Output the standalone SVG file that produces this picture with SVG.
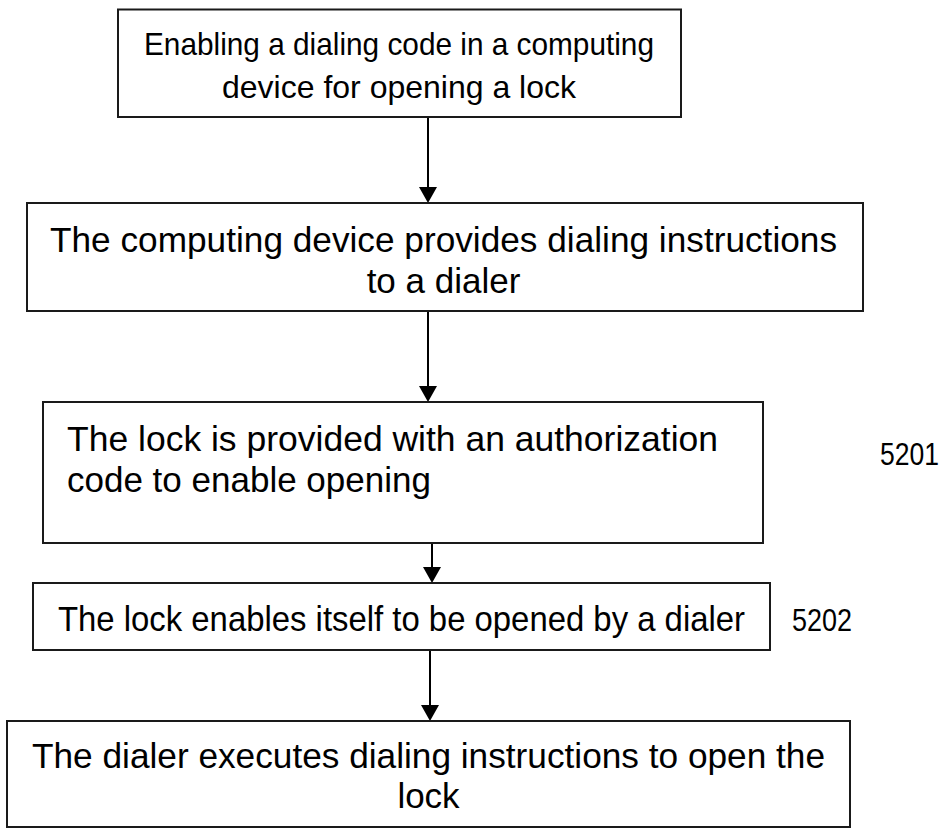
<svg xmlns="http://www.w3.org/2000/svg" width="947" height="828" viewBox="0 0 947 828">
<defs>
<style>
.box{fill:#fff;stroke:#1a1a1a;stroke-width:2}
.t{font-family:"Liberation Sans",Arial,sans-serif;font-size:35px;fill:#000}
.c{text-anchor:middle}
.lbl{font-size:31px}
.edge{stroke:#000;stroke-width:2;fill:none}
.head{fill:#000}
</style>
</defs>
<rect width="947" height="828" fill="#fff"/>
<g id="connectors">
<line class="edge" x1="428" y1="117" x2="428" y2="187"/>
<path class="head" d="M419,187 L437,187 L428,203 Z"/>
<line class="edge" x1="428" y1="311" x2="428" y2="386"/>
<path class="head" d="M419,386 L437,386 L428,402 Z"/>
<line class="edge" x1="432" y1="541" x2="432" y2="567"/>
<path class="head" d="M423,567 L441,567 L432,583 Z"/>
<line class="edge" x1="430" y1="650" x2="430" y2="705"/>
<path class="head" d="M421,705 L439,705 L430,721 Z"/>
</g>
<g id="n1">
<rect class="box" x="118" y="9.5" width="563" height="107.5"/>
<text class="t c" x="399" y="55" style="font-size:32px" textLength="510" lengthAdjust="spacingAndGlyphs">Enabling a dialing code in a computing</text>
<text class="t c" x="399" y="98" style="font-size:32px">device for opening a lock</text>
</g>
<g id="n2">
<rect class="box" x="27" y="203" width="836" height="108"/>
<text class="t c" x="443.5" y="252" textLength="787" lengthAdjust="spacingAndGlyphs">The computing device provides dialing instructions</text>
<text class="t c" x="443.5" y="293">to a dialer</text>
</g>
<g id="n3">
<rect class="box" x="43" y="402" width="720" height="141"/>
<text class="t" x="67" y="451" textLength="651" lengthAdjust="spacingAndGlyphs">The lock is provided with an authorization</text>
<text class="t" x="67" y="492">code to enable opening</text>
</g>
<text id="label-5201" class="t lbl" x="880" y="465" textLength="59" lengthAdjust="spacingAndGlyphs">5201</text>
<g id="n4">
<rect class="box" x="33" y="583" width="737" height="67"/>
<text class="t" x="58" y="631" textLength="687" lengthAdjust="spacingAndGlyphs">The lock enables itself to be opened by a dialer</text>
</g>
<text id="label-5202" class="t lbl" x="792" y="631" textLength="60" lengthAdjust="spacingAndGlyphs">5202</text>
<g id="n5">
<rect class="box" x="7" y="721" width="843" height="106"/>
<text class="t c" x="428.5" y="768" textLength="793" lengthAdjust="spacingAndGlyphs">The dialer executes dialing instructions to open the</text>
<text class="t c" x="428.5" y="808">lock</text>
</g>
</svg>
